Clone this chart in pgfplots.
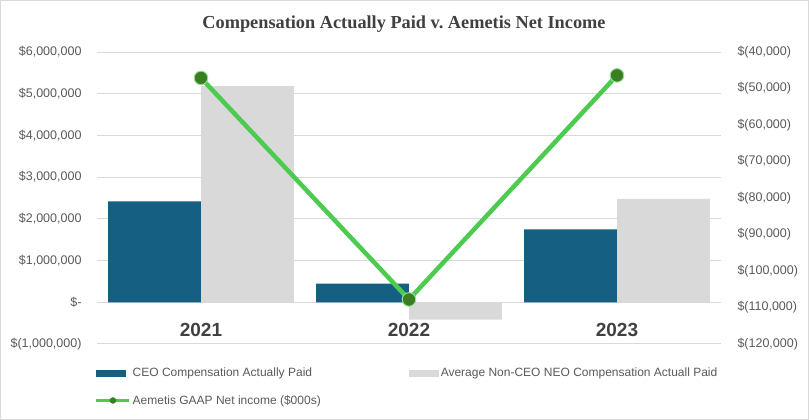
\documentclass[border=0pt]{standalone}
\usepackage{pgfplots}
\pgfplotsset{compat=1.18}
\usepackage{fontspec}
\setmainfont{Liberation Sans}
\newfontfamily\titlefont{Liberation Serif}
\definecolor{ceo}{HTML}{156082}
\definecolor{neo}{HTML}{D9D9D9}
\definecolor{lgreen}{HTML}{4CCB50}
\definecolor{dgreen}{HTML}{3B7D23}
\definecolor{gridc}{HTML}{D9D9D9}
\definecolor{tickc}{HTML}{595959}
\definecolor{titlec}{HTML}{404040}
\begin{document}
\begin{tikzpicture}[x=1pt,y=1pt]
\useasboundingbox (0,0) rectangle (809,420);
\draw[color=gridc, line width=1pt] (0.5,0.5) rectangle (808.5,419.5);
\node[anchor=base, font=\titlefont\bfseries\fontsize{18.3}{20}\selectfont, text=titlec, inner sep=0] at (404,391) {Compensation Actually Paid v.\ Aemetis Net Income};
\begin{axis}[
  at={(97pt,76pt)}, anchor=south west, scale only axis, width=624pt, height=292pt,
  xmin=-0.5, xmax=2.5, ymin=-1000000, ymax=6000000,
  axis line style={draw=none}, major tick length=0pt,
  xtick={0,1,2}, xticklabels={2021,2022,2023},
  xticklabel style={font=\bfseries\fontsize{19}{21}\selectfont, text=titlec, anchor=center, yshift=14.5pt},
  ytick={-1000000,0,1000000,2000000,3000000,4000000,5000000,6000000},
  yticklabels={{\$(1,000,000)},{\$-},{\$1,000,000},{\$2,000,000},{\$3,000,000},{\$4,000,000},{\$5,000,000},{\$6,000,000}},
  scaled y ticks=false,
  ymajorgrids, grid style={gridc, line width=1pt},
  yticklabel style={font=\fontsize{12.5}{14}\selectfont, text=tickc, xshift=-12pt},
  legend columns=2,
  legend cell align=left,
  legend style={at={(-0.004,-0.075)}, anchor=north west, draw=none, fill=none, inner sep=0pt,
    font=\fontsize{12}{14}\selectfont, text=tickc, nodes={inner xsep=1.5pt},
    /tikz/every even column/.append style={column sep=87pt}, /tikz/row sep=13pt},
]
\addplot[ybar, bar width=0.447, bar shift=-0.2236, fill=ceo, draw=none,
  legend image code/.code={\fill[ceo] (0pt,-3.5pt) rectangle (30pt,3.5pt);}]
  coordinates {(0,2420000) (1,445000) (2,1750000)};
\addlegendentry{CEO Compensation Actually Paid}
\addplot[ybar, bar width=0.447, bar shift=0.2236, fill=neo, draw=none,
  legend image code/.code={\fill[neo] (0pt,-3.5pt) rectangle (30pt,3.5pt);}]
  coordinates {(0,5180000) (1,-415000) (2,2480000)};
\addlegendentry{Average Non-CEO NEO Compensation Actuall Paid}
\addlegendimage{legend image code/.code={\draw[lgreen, line width=3.5pt] (0pt,0pt)--(33pt,0pt); \fill[dgreen] (16.5pt,0pt) circle (3pt);}}
\addlegendentry{Aemetis GAAP Net income (\$000s)}
\end{axis}
\begin{axis}[
  at={(97pt,76pt)}, anchor=south west, scale only axis, width=624pt, height=292pt,
  xmin=-0.5, xmax=2.5, ymin=-120000, ymax=-40000,
  axis x line=none, axis y line*=right, axis line style={draw=none}, major tick length=0pt,
  ytick={-120000,-110000,-100000,-90000,-80000,-70000,-60000,-50000,-40000},
  yticklabels={{\$(120,000)},{\$(110,000)},{\$(100,000)},{\$(90,000)},{\$(80,000)},{\$(70,000)},{\$(60,000)},{\$(50,000)},{\$(40,000)}},
  scaled y ticks=false,
  yticklabel style={font=\fontsize{12.5}{14}\selectfont, text=tickc, xshift=13pt},
  clip=false,
]
\addplot[lgreen, line width=4.5pt, mark=*, mark size=6.8pt, mark options={fill=dgreen, draw=lgreen!60!white, line width=1pt}]
  coordinates {(0,-47100) (1,-107800) (2,-46400)};
\end{axis}
\end{tikzpicture}
\end{document}
